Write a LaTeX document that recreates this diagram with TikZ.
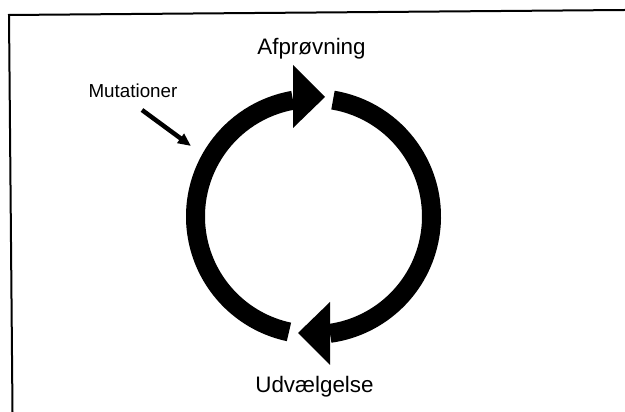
\documentclass[tikz,border=0pt]{standalone}
\usepackage{fontspec}
\setmainfont{Liberation Sans}
\usetikzlibrary{arrows.meta}
\begin{document}
\begin{tikzpicture}[x=1pt,y=1pt,
  frameline/.style={line width=2pt,black},
  ringarc/.style={line width=19pt,black},
  headfill/.style={fill=black},
  biglabel/.style={font=\fontsize{22.4}{26}\selectfont,inner sep=0pt,anchor=base},
  smalllabel/.style={font=\fontsize{18.8}{22}\selectfont,inner sep=0pt,anchor=base},
  mutarrow/.style={line width=4.5pt,black,-{Triangle[length=13pt,width=11pt]}}]
\useasboundingbox (0,0) rectangle (625,412);
% frame (top and left edges)
\coordinate (fa) at (9,397);
\coordinate (fb) at (625,402);
\coordinate (fc) at (12.5,0);
\draw[frameline] (fb) -- (fa) -- (fc);
% ring
\coordinate (c) at (313.5,195.5);
\draw[ringarc] (c) ++(100:118) arc[start angle=100,end angle=258,radius=118];
\draw[ringarc] (c) ++(80.5:118) arc[start angle=80.5,end angle=-82,radius=118];
% arrowheads
\fill[headfill] (293,347) -- (325,315) -- (293,284) -- cycle;
\fill[headfill] (330,110) -- (298,79) -- (330,47) -- cycle;
% labels
\node[biglabel] (afp) at (311.5,357) {Afprøvning};
\node[biglabel] (udv) at (314.5,19) {Udvælgelse};
\node[smalllabel] (mut) at (133,314) {Mutationer};
% mutation arrow
\coordinate (mtail) at (142,302);
\coordinate (mtip) at (191,266);
\draw[mutarrow] (mtail) -- (mtip);
\end{tikzpicture}
\end{document}
